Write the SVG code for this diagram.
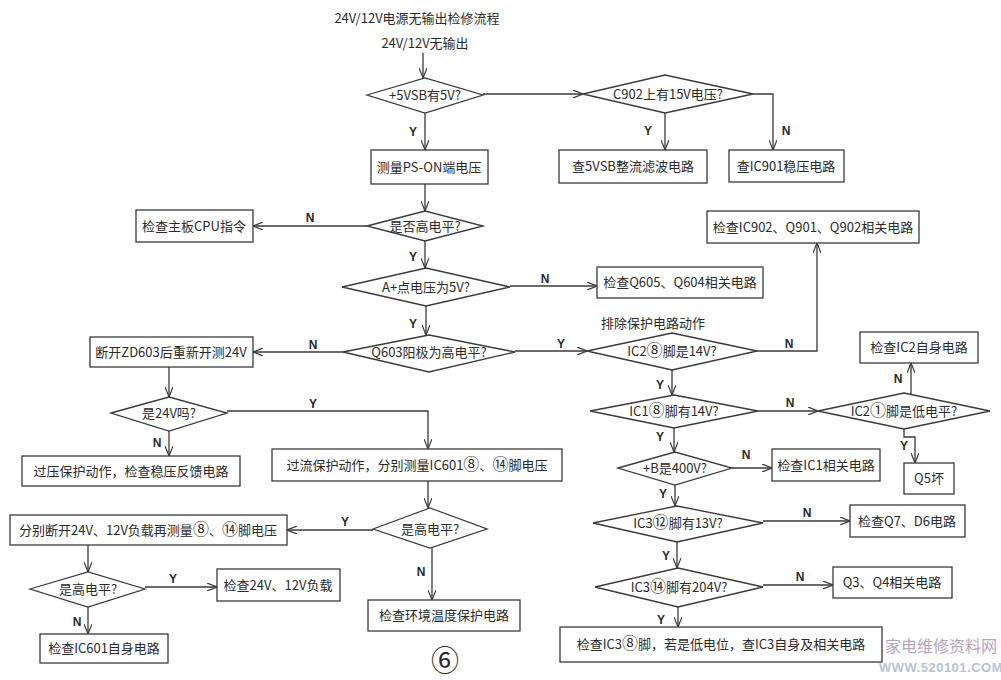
<svg xmlns="http://www.w3.org/2000/svg" width="1001" height="680" viewBox="0 0 1001 680">
<defs>
<marker id="arr" viewBox="0 0 10 8" refX="10" refY="4" markerWidth="10" markerHeight="8" markerUnits="userSpaceOnUse" orient="auto">
<path d="M0,0 L10,4 L0,8" fill="none" stroke="#3a3a3a" stroke-width="1.2"/>
</marker>
<style>
.box{fill:none;stroke:#3a3a3a;stroke-width:1.3}
.dia{fill:none;stroke:#3a3a3a;stroke-width:1.3}
.t{font-family:"Noto Sans CJK SC","Noto Sans",sans-serif;font-size:13px;fill:#2a2a2a;text-anchor:middle}
.cn{font-size:16px}
.lbl{font-family:"Liberation Sans","Noto Sans",sans-serif;font-size:12px;fill:#2a2a2a;text-anchor:middle;font-weight:bold}
.c{fill:none;stroke:#3a3a3a;stroke-width:1.3}
.ca{fill:none;stroke:#3a3a3a;stroke-width:1.3;marker-end:url(#arr)}
</style>
</defs>
<rect width="1001" height="680" fill="#ffffff"/>

<g id="title"><text class="t" x="417" y="23" font-size="14">24V/12V电源无输出检修流程</text></g>
<g id="start"><text class="t" x="425" y="48" font-size="14">24V/12V无输出</text></g>

<g id="d1"><polygon class="dia" points="367,95 425,78 483,95 425,113"/><text class="t" x="425" y="100">+5VSB有5V?</text></g>
<g id="d2"><polygon class="dia" points="583,94 665,75 753,94 665,113"/><text class="t" x="668" y="99">C902上有15V电压?</text></g>
<g id="b_5vsb"><rect class="box" x="559" y="150" width="148" height="33"/><text class="t" x="633" y="171">查5VSB整流滤波电路</text></g>
<g id="b_ic901"><rect class="box" x="729" y="150" width="115" height="32"/><text class="t" x="786" y="171">查IC901稳压电路</text></g>
<g id="b_ps"><rect class="box" x="371" y="150" width="117" height="34"/><text class="t" x="429" y="172">测量PS-ON端电压</text></g>
<g id="d3"><polygon class="dia" points="367,226 425,211 483,226 425,241"/><text class="t" x="425" y="231">是否高电平?</text></g>
<g id="b_cpu"><rect class="box" x="136" y="210" width="117" height="32"/><text class="t" x="194" y="231">检查主板CPU指令</text></g>
<g id="d4"><polygon class="dia" points="342,287 426,268 510,287 426,306"/><text class="t" x="426" y="292">A+点电压为5V?</text></g>
<g id="b_q605"><rect class="box" x="597" y="267" width="166" height="31"/><text class="t" x="680" y="287">检查Q605、Q604相关电路</text></g>
<g id="d5"><polygon class="dia" points="343,352 429,335 515,352 429,372"/><text class="t" x="429" y="357">Q603阳极为高电平?</text></g>
<g id="b_zd"><rect class="box" x="90" y="337" width="163" height="30"/><text class="t" x="171" y="357">断开ZD603后重新开测24V</text></g>
<g id="note"><text class="t" x="653" y="328">排除保护电路动作</text></g>
<g id="d6"><polygon class="dia" points="587,351 672,333 757,351 672,370"/><text class="t" x="672" y="356">IC2<tspan class="cn">⑧</tspan>脚是14V?</text></g>
<g id="b_ic902"><rect class="box" x="707" y="211" width="212" height="32"/><text class="t" x="813" y="232">检查IC902、Q901、Q902相关电路</text></g>
<g id="d7"><polygon class="dia" points="590,411 674,395 758,411 674,428"/><text class="t" x="674" y="416">IC1<tspan class="cn">⑧</tspan>脚有14V?</text></g>
<g id="d8"><polygon class="dia" points="818,411 904,393 990,411 904,429"/><text class="t" x="904" y="416">IC2<tspan class="cn">①</tspan>脚是低电平?</text></g>
<g id="b_ic2"><rect class="box" x="860" y="332" width="118" height="31"/><text class="t" x="919" y="352">检查IC2自身电路</text></g>
<g id="b_q5"><rect class="box" x="904" y="463" width="50" height="31"/><text class="t" x="929" y="483">Q5坏</text></g>
<g id="d9"><polygon class="dia" points="618,468 675,452 732,468 675,485"/><text class="t" x="675" y="473">+B是400V?</text></g>
<g id="b_ic1"><rect class="box" x="772" y="449" width="108" height="32"/><text class="t" x="826" y="470">检查IC1相关电路</text></g>
<g id="d10"><polygon class="dia" points="593,523 677,506 763,523 677,542"/><text class="t" x="678" y="528">IC3<tspan class="cn">⑫</tspan>脚有13V?</text></g>
<g id="b_q7"><rect class="box" x="850" y="505" width="115" height="32"/><text class="t" x="907" y="526">检查Q7、D6电路</text></g>
<g id="d11"><polygon class="dia" points="595,587 678,568 763,587 678,607"/><text class="t" x="679" y="592">IC3<tspan class="cn">⑭</tspan>脚有204V?</text></g>
<g id="b_q3"><rect class="box" x="833" y="567" width="119" height="31"/><text class="t" x="892" y="587">Q3、Q4相关电路</text></g>
<g id="b_ic3"><rect class="box" x="560" y="627" width="322" height="35"/><text class="t" x="721" y="649">检查IC3<tspan class="cn">⑧</tspan>脚，若是低电位，查IC3自身及相关电路</text></g>

<g id="d12"><polygon class="dia" points="111,413 169,397 227,413 169,431"/><text class="t" x="169" y="418">是24V吗?</text></g>
<g id="b_ov"><rect class="box" x="22" y="456" width="218" height="30"/><text class="t" x="131" y="476">过压保护动作，检查稳压反馈电路</text></g>
<g id="b_oc"><rect class="box" x="272" y="449" width="290" height="32"/><text class="t" x="417" y="470">过流保护动作，分别测量IC601<tspan class="cn">⑧</tspan>、<tspan class="cn">⑭</tspan>脚电压</text></g>
<g id="d13"><polygon class="dia" points="373,529 430,508 487,529 430,548"/><text class="t" x="430" y="534">是高电平?</text></g>
<g id="b_load"><rect class="box" x="10" y="515" width="277" height="30"/><text class="t" x="148" y="535">分别断开24V、12V负载再测量<tspan class="cn">⑧</tspan>、<tspan class="cn">⑭</tspan>脚电压</text></g>
<g id="b_temp"><rect class="box" x="368" y="600" width="152" height="31"/><text class="t" x="444" y="620">检查环境温度保护电路</text></g>
<g id="d14"><polygon class="dia" points="30,589 88,572 145,589 88,607"/><text class="t" x="88" y="594">是高电平?</text></g>
<g id="b_24"><rect class="box" x="217" y="569" width="123" height="32"/><text class="t" x="278" y="590">检查24V、12V负载</text></g>
<g id="b_ic601"><rect class="box" x="40" y="634" width="128" height="29"/><text class="t" x="104" y="653">检查IC601自身电路</text></g>

<g id="fig"><text x="445" y="671" font-family="Noto Sans CJK SC,DejaVu Sans,sans-serif" font-size="28" fill="#2a2a2a" text-anchor="middle">⑥</text></g>
<g id="watermark">
<text x="941" y="652" font-family="Noto Sans CJK SC,sans-serif" font-size="16" fill="#b3a7bd" text-anchor="middle">家电维修资料网</text>
<text x="941" y="672" font-family="Liberation Sans,sans-serif" font-size="13" font-weight="bold" fill="#b9c3d2" text-anchor="middle" letter-spacing="0.5">WWW.520101.COM</text>
</g>

<g id="connectors">
<path class="ca" d="M423,53 V78"/>
<path class="ca" d="M483,94 H583"/>
<path class="ca" d="M665,113 V150"/>
<path class="ca" d="M753,94 H773 V150"/>
<path class="ca" d="M425,113 V150"/>
<path class="ca" d="M425,184 V211"/>
<path class="ca" d="M367,226 H253"/>
<path class="ca" d="M425,241 V268"/>
<path class="ca" d="M510,286 H597"/>
<path class="ca" d="M426,306 V335"/>
<path class="ca" d="M343,352 H253"/>
<path class="ca" d="M515,351 H587"/>
<path class="ca" d="M757,351 H817 V243"/>
<path class="ca" d="M672,370 V395"/>
<path class="ca" d="M758,411 H818"/>
<path class="ca" d="M911,394 V363"/>
<path class="ca" d="M904,429 V437 H915 V463"/>
<path class="ca" d="M674,428 V452"/>
<path class="ca" d="M732,468 H772"/>
<path class="ca" d="M675,485 V506"/>
<path class="ca" d="M763,521 H850"/>
<path class="ca" d="M677,542 V568"/>
<path class="ca" d="M763,585 H833"/>
<path class="ca" d="M678,607 V627"/>
<path class="ca" d="M169,367 V397"/>
<path class="ca" d="M227,411 H428 V449"/>
<path class="ca" d="M169,431 V456"/>
<path class="ca" d="M428,481 V508"/>
<path class="ca" d="M373,530 H287"/>
<path class="ca" d="M432,548 V600"/>
<path class="ca" d="M88,545 V572"/>
<path class="ca" d="M145,587 H217"/>
<path class="ca" d="M88,607 V634"/>

<text class="lbl" x="413" y="136">Y</text>
<text class="lbl" x="648" y="135">Y</text>
<text class="lbl" x="786" y="135">N</text>
<text class="lbl" x="310" y="222">N</text>
<text class="lbl" x="413" y="261">Y</text>
<text class="lbl" x="545" y="283">N</text>
<text class="lbl" x="413" y="328">Y</text>
<text class="lbl" x="313" y="349">N</text>
<text class="lbl" x="561" y="348">Y</text>
<text class="lbl" x="789" y="348">N</text>
<text class="lbl" x="660" y="389">Y</text>
<text class="lbl" x="790" y="407">N</text>
<text class="lbl" x="898" y="383">N</text>
<text class="lbl" x="904" y="450">Y</text>
<text class="lbl" x="660" y="441">Y</text>
<text class="lbl" x="746" y="459">N</text>
<text class="lbl" x="663" y="498">Y</text>
<text class="lbl" x="807" y="517">N</text>
<text class="lbl" x="666" y="560">Y</text>
<text class="lbl" x="800" y="581">N</text>
<text class="lbl" x="661" y="624">Y</text>
<text class="lbl" x="313" y="408">Y</text>
<text class="lbl" x="157" y="447">N</text>
<text class="lbl" x="345" y="526">Y</text>
<text class="lbl" x="421" y="576">N</text>
<text class="lbl" x="173" y="583">Y</text>
<text class="lbl" x="77" y="626">N</text>
</g>
</svg>
